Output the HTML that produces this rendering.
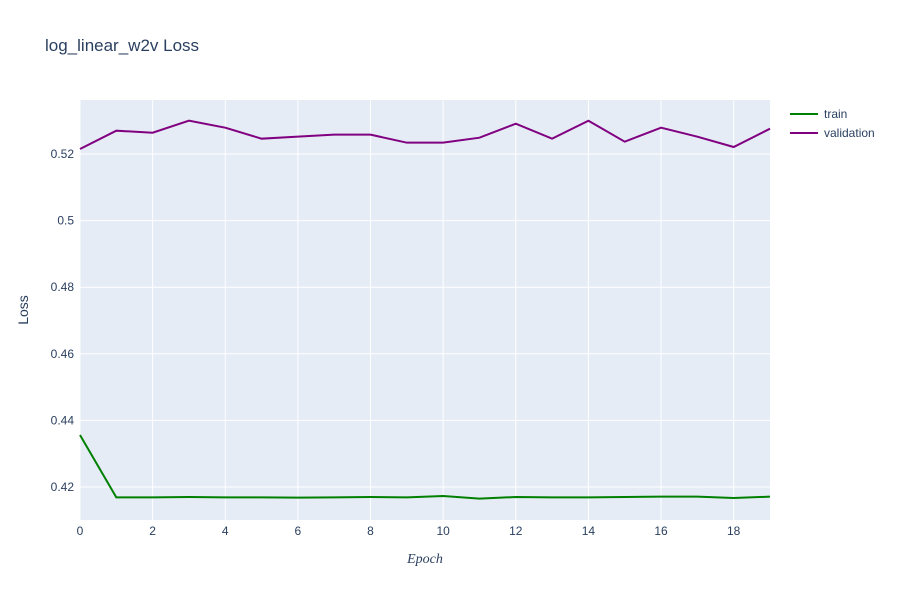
<!DOCTYPE html>
<html><head><meta charset="utf-8"><style>
body{margin:0;background:#fff;font-family:"Liberation Sans",sans-serif}
svg text{font-family:"Liberation Sans",sans-serif;fill:#2a3f5f}
</style></head><body>
<svg id="chart" width="900" height="600">
<text x="45" y="51" font-size="17">log_linear_w2v Loss</text>
<rect x="80" y="100" width="690" height="420" fill="#e5ecf6"/>
<g id="grid"></g><g id="lines"></g><g id="ticks"></g>
<text x="425" y="563" font-size="14" font-style="italic" font-family="Liberation Serif" text-anchor="middle" style="font-family:'Liberation Serif',serif">Epoch</text>
<text transform="translate(28,310) rotate(-90)" font-size="14" text-anchor="middle">Loss</text>
<g>
<g><line x1="790" y1="114" x2="818" y2="114" stroke="green" stroke-width="2"/><text x="824" y="118" font-size="12">train</text></g>
<g><line x1="790" y1="133" x2="818" y2="133" stroke="purple" stroke-width="2"/><text x="824" y="137" font-size="12">validation</text></g>
</g>
</svg>
<script>
const epochs=[0,1,2,3,4,5,6,7,8,9,10,11,12,13,14,15,16,17,18,19];
const trainLoss=[0.4356,0.4169,0.4169,0.4170,0.4169,0.4169,0.4168,0.4169,0.4170,0.4169,0.4173,0.4165,0.4170,0.4169,0.4169,0.4170,0.4171,0.4171,0.4167,0.4171];
const valLoss=[0.5215,0.5270,0.5264,0.5300,0.5279,0.5246,0.5252,0.5258,0.5258,0.5234,0.5234,0.5249,0.5291,0.5246,0.5300,0.5237,0.5279,0.5252,0.5221,0.5276];
const xTicks=[0,2,4,6,8,10,12,14,16,18];
const yTicks=[0.42,0.44,0.46,0.48,0.5,0.52];
const yTickLabels=["0.42","0.44","0.46","0.48","0.5","0.52"];
const NS="http://www.w3.org/2000/svg";
const x=v=>80+(v-0)/19*690;
const y=v=>487-(v-0.42)/0.02*66.6;
const grid=document.getElementById('grid'),ticks=document.getElementById('ticks'),lines=document.getElementById('lines');
function mk(tag,attrs,parent){const e=document.createElementNS(NS,tag);for(const k in attrs)e.setAttribute(k,attrs[k]);parent.appendChild(e);return e;}
xTicks.forEach(t=>{
 const l=mk('line',{x1:x(t),x2:x(t),y1:100,y2:520,stroke:'#fff','stroke-width':1},grid);
 
 
 const tx=mk('text',{x:x(t),y:535,'font-size':12,'text-anchor':'middle'},ticks);tx.textContent=t;
 
 
});
yTicks.forEach((t,i)=>{
 const l=mk('line',{x1:80,x2:770,y1:y(t),y2:y(t),stroke:'#fff','stroke-width':1},grid);
 
 
 const tx=mk('text',{x:74,y:y(t)+4,'font-size':12,'text-anchor':'end'},ticks);tx.textContent=yTickLabels[i];
 
 
});
function series(vals,color,name){
 const p=mk('polyline',{points:vals.map((v,i)=>x(epochs[i])+','+y(v)).join(' '),fill:'none',stroke:color,'stroke-width':2},lines);
 
 
}
series(trainLoss,'green','train-line');
series(valLoss,'purple','validation-line');
</script>
</body></html>
